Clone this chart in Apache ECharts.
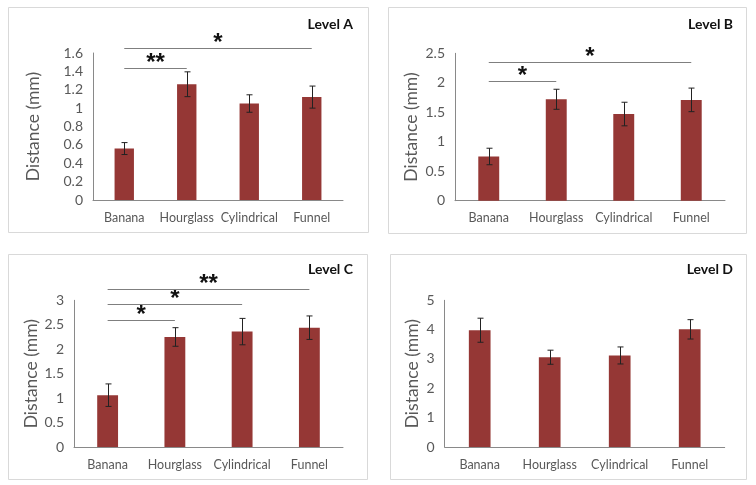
<!DOCTYPE html>
<html><head><meta charset="utf-8">
<script src="https://cdn.jsdelivr.net/npm/echarts@6/dist/echarts.min.js"></script>
<style>html,body{margin:0;padding:0;background:#fff}#c{width:756px;height:485px}</style>
</head><body><div id="c"></div>
<script>
const categories = ['Banana', 'Hourglass', 'Cylindrical', 'Funnel'];
const titles = ['Level A', 'Level B', 'Level C', 'Level D'];
const levelA = [0.56, 1.26, 1.05, 1.12];
const errA = [0.065, 0.135, 0.095, 0.12];
const levelB = [0.75, 1.72, 1.47, 1.71];
const errB = [0.14, 0.17, 0.20, 0.20];
const levelC = [1.06, 2.25, 2.36, 2.44];
const errC = [0.23, 0.19, 0.27, 0.24];
const levelD = [3.98, 3.06, 3.12, 4.01];
const errD = [0.41, 0.24, 0.29, 0.33];
// significance brackets: [fromIndex, toIndex, height, label]
const sigA = [[0, 1, 1.44, '**'], [0, 3, 1.65, '*']];
const sigB = [[0, 1, 2.03, '*'], [0, 3, 2.36, '*']];
const sigC = [[0, 1, 2.59, '*'], [0, 2, 2.92, '*'], [0, 3, 3.24, '**']];
const sigD = [];
const yMax = [1.6, 2.5, 3, 5];
const yStep = [0.2, 0.5, 0.5, 1];

const values = [levelA, levelB, levelC, levelD];
const errs = [errA, errB, errC, errD];
const sigs = [sigA, sigB, sigC, sigD];

const grids = [
  {left: 93, top: 53, width: 250, height: 147},
  {left: 455, top: 53.3, width: 270, height: 147.4},
  {left: 74, top: 300.3, width: 269, height: 146.7},
  {left: 444.7, top: 300.3, width: 280, height: 146.7}
];
const nameGaps = [51, 35, 32, 23];
const boxes = [[8, 7, 360, 225], [388, 7, 358, 226], [8, 254, 359, 225], [390, 254, 356, 225]];
const titlePos = [[353, 24], [733, 24], [353, 269], [733, 269]];

const FONT = 'Lato, "Open Sans", sans-serif';
const BAR = '#953735';
const TXT = '#595959';

const option = {
  animation: false,
  backgroundColor: '#fff',
  grid: grids.map(g => Object.assign({containLabel: false}, g)),
  xAxis: grids.map((g, i) => ({
    type: 'category', gridIndex: i, data: categories,
    axisLine: {lineStyle: {color: '#898989', width: 1}},
    axisTick: {show: false},
    axisLabel: {color: TXT, fontFamily: FONT, fontSize: 12.5, margin: 11, interval: 0}
  })),
  yAxis: grids.map((g, i) => ({
    type: 'value', gridIndex: i, min: 0, max: yMax[i], interval: yStep[i],
    name: 'Distance (mm)', nameLocation: 'middle', nameGap: nameGaps[i],
    nameTextStyle: {color: TXT, fontFamily: FONT, fontSize: 17.5},
    axisLine: {show: true, lineStyle: {color: '#898989', width: 1}},
    axisTick: {show: false},
    splitLine: {show: false},
    axisLabel: {color: TXT, fontFamily: FONT, fontSize: 14, margin: 10}
  })),
  graphic: boxes.map(b => ({
    type: 'rect', shape: {x: b[0] + 0.5, y: b[1] + 0.5, width: b[2], height: b[3]},
    style: {fill: 'none', stroke: '#d9d9d9', lineWidth: 1}, silent: true, z: -1
  })).concat(titles.map((t, i) => ({
    type: 'text', x: titlePos[i][0], y: titlePos[i][1],
    style: {text: t, align: 'right', verticalAlign: 'middle', fill: '#111',
      font: 'bold 14px ' + FONT}
  }))),
  series: []
};

values.forEach((vals, i) => {
  option.series.push({
    type: 'bar', xAxisIndex: i, yAxisIndex: i, data: vals, barWidth: '31%',
    itemStyle: {color: BAR}
  });
  option.series.push({
    type: 'custom', xAxisIndex: i, yAxisIndex: i, z: 5,
    data: vals.map((v, k) => [k, v, errs[i][k]]),
    encode: {x: 0, y: 1},
    renderItem: function (params, api) {
      const x = api.value(0), v = api.value(1), e = api.value(2);
      const p1 = api.coord([x, v + e]), p2 = api.coord([x, v - e]);
      const st = {stroke: '#222', lineWidth: 1};
      const cx = Math.round(p1[0]) + 0.5;
      return {type: 'group', children: [
        {type: 'line', shape: {x1: cx, y1: p1[1], x2: cx, y2: p2[1]}, style: st},
        {type: 'line', shape: {x1: cx - 3, y1: p1[1], x2: cx + 3, y2: p1[1]}, style: st},
        {type: 'line', shape: {x1: cx - 3, y1: p2[1], x2: cx + 3, y2: p2[1]}, style: st}
      ]};
    }
  });
  if (sigs[i].length) {
    option.series.push({
      type: 'custom', xAxisIndex: i, yAxisIndex: i, z: 6, clip: false,
      data: sigs[i].map(s => [s[0], s[2], s[1]]),
      encode: {x: 0, y: 1},
      renderItem: function (params, api) {
        const a = api.coord([api.value(0), api.value(1)]);
        const b = api.coord([api.value(2), api.value(1)]);
        const label = sigs[i][params.dataIndex][3];
        const y = Math.round(a[1]) + 0.5;
        return {type: 'group', children: [
          {type: 'line', shape: {x1: a[0], y1: y, x2: b[0], y2: y},
            style: {stroke: '#7f7f7f', lineWidth: 1}},
          {type: 'text', style: {text: label, x: (a[0] + b[0]) / 2, y: y + 7,
            align: 'center', verticalAlign: 'bottom', fill: '#111',
            font: 'bold 24px "Liberation Sans", sans-serif'}}
        ]};
      }
    });
  }
});

const chart = echarts.init(document.getElementById('c'), null, {renderer: 'canvas'});
chart.setOption(option);
</script></body></html>
